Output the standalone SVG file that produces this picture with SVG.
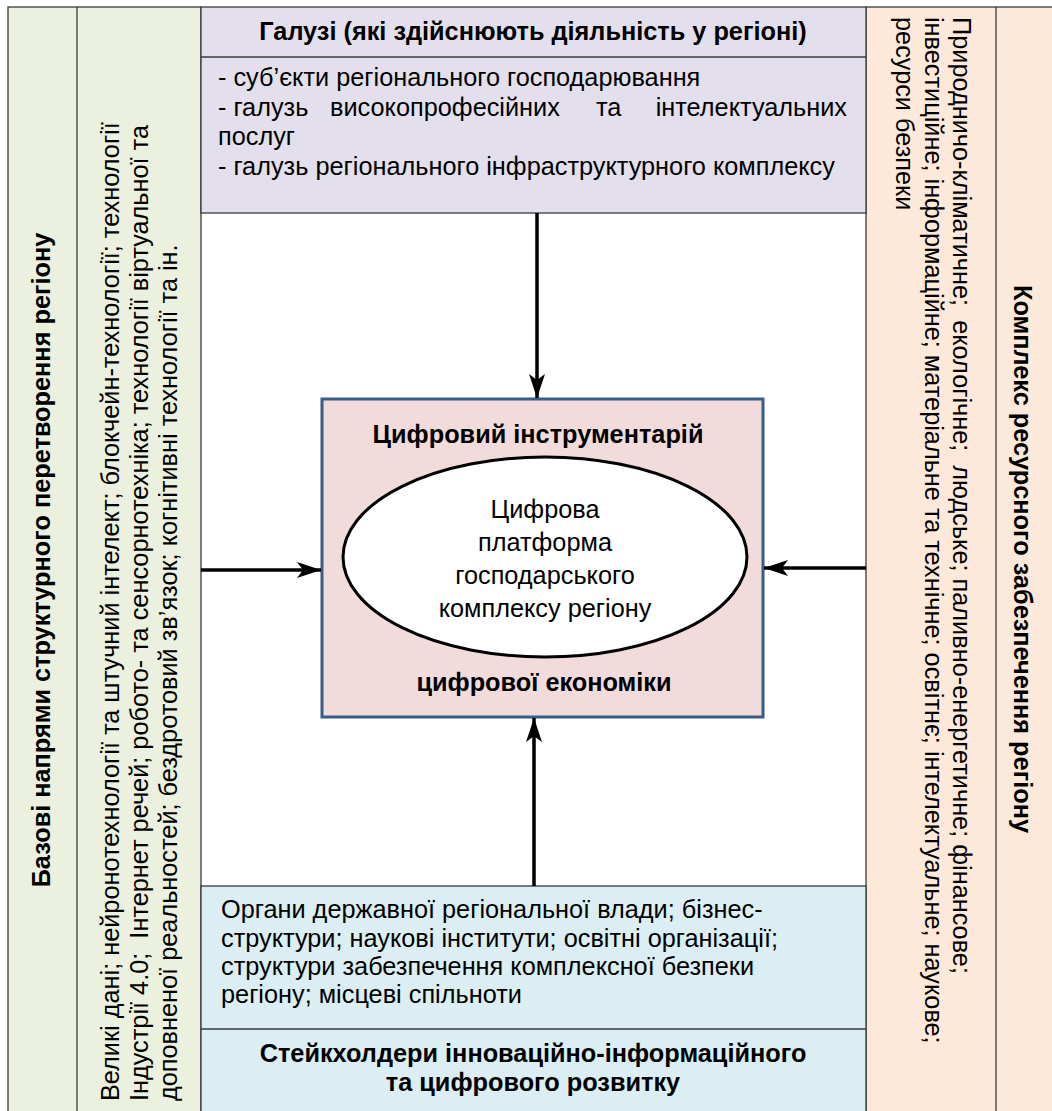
<svg xmlns="http://www.w3.org/2000/svg" width="1052" height="1111" viewBox="0 0 1052 1111">
<defs>
<style>
.t{font-family:"Liberation Sans",Arial,sans-serif;font-size:25.3px;fill:#000}
.b{font-weight:bold}
.c{text-anchor:middle}
.e{text-anchor:end}
.box{stroke:#3a3a3a;stroke-width:1.3}
.ln{stroke:#3a3a3a;stroke-width:1.3;fill:none}
.arr{stroke:#000;stroke-width:3.5;fill:none;marker-end:url(#ah)}
</style>
<marker id="ah" viewBox="0 0 24 16" refX="24" refY="8" markerWidth="24" markerHeight="16" markerUnits="userSpaceOnUse" orient="auto">
<path d="M0,0 L24,8 L0,16 L6,8 Z" fill="#000"/>
</marker>
</defs>
<rect width="1052" height="1111" fill="#fff"/>

<g id="left-panel">
<rect class="box" x="8" y="7" width="193" height="1120" fill="#ebf1de"/>
<line class="ln" x1="77" y1="7" x2="77" y2="1111"/>
<text class="t b c" transform="translate(50,560) rotate(-90)">Базові напрями структурного перетворення регіону</text>
<text class="t" transform="translate(119,1101) rotate(-90)">Великі дані; нейронотехнології та штучний інтелект; блокчейн-технології; технології</text>
<text class="t" transform="translate(148,1101) rotate(-90)" xml:space="preserve">Індустрії 4.0;  Інтернет речей; робото- та сенсорнотехніка; технології віртуальної та</text>
<text class="t" transform="translate(177,1101) rotate(-90)">доповненої реальностей; бездротовий зв’язок; когнітивні технології та ін.</text>
</g>

<g id="right-panel">
<rect class="box" x="866" y="7" width="200" height="1120" fill="#fde9d9"/>
<line class="ln" x1="996" y1="7" x2="996" y2="1111"/>
<text class="t b c" transform="translate(1014,559) rotate(90)">Комплекс ресурсного забезпечення регіону</text>
<text class="t" transform="translate(953,17) rotate(90)" xml:space="preserve">Природничо-кліматичне;  екологічне;  людське; паливно-енергетичне; фінансове;</text>
<text class="t" transform="translate(925,17) rotate(90)">інвестиційне; інформаційне; матеріальне та технічне; освітнє; інтелектуальне; наукове;</text>
<text class="t" transform="translate(896,17) rotate(90)">ресурси безпеки</text>
</g>

<g id="top-box">
<rect class="box" x="201" y="7" width="665" height="206" fill="#e4dfec"/>
<line class="ln" x1="201" y1="57" x2="866" y2="57"/>
<text class="t b c" x="533" y="40">Галузі (які здійснюють діяльність у регіоні)</text>
<text class="t" x="218" y="86">- суб’єкти регіонального господарювання</text>
<text class="t" x="218" y="116">- галузь</text>
<text class="t" x="330" y="116">високопрофесійних</text>
<text class="t" x="596" y="116">та</text>
<text class="t e" x="847" y="116">інтелектуальних</text>
<text class="t" x="218" y="145">послуг</text>
<text class="t" x="218" y="175">- галузь регіонального інфраструктурного комплексу</text>
</g>

<g id="center-box">
<rect x="322" y="399" width="441" height="318" fill="#f2dcdb" stroke="#385d8a" stroke-width="3"/>
<text class="t b c" x="538" y="443">Цифровий інструментарій</text>
<text class="t b c" x="544" y="691">цифрової економіки</text>
</g>

<g id="platform">
<ellipse cx="545" cy="557" rx="202" ry="100" fill="#fff" stroke="#000" stroke-width="3"/>
<text class="t c" x="545" y="518">Цифрова</text>
<text class="t c" x="545" y="551">платформа</text>
<text class="t c" x="545" y="584">господарського</text>
<text class="t c" x="545" y="617">комплексу регіону</text>
</g>

<g id="bottom-box">
<rect class="box" x="201" y="886" width="665" height="240" fill="#daeef3"/>
<line class="ln" x1="201" y1="1029" x2="866" y2="1029"/>
<text class="t" x="221" y="918">Органи державної регіональної влади; бізнес-</text>
<text class="t" x="221" y="947">структури; наукові інститути; освітні організації;</text>
<text class="t" x="221" y="975">структури забезпечення комплексної безпеки</text>
<text class="t" x="221" y="1003">регіону; місцеві спільноти</text>
<text class="t b c" x="533" y="1062">Стейкхолдери інноваційно-інформаційного</text>
<text class="t b c" x="533" y="1091">та цифрового розвитку</text>
</g>

<g id="connectors">
<line class="arr" x1="537" y1="213" x2="537" y2="398"/>
<line class="arr" x1="534" y1="886" x2="534" y2="718"/>
<line class="arr" x1="201" y1="570" x2="321" y2="570"/>
<line class="arr" x1="866" y1="568" x2="764" y2="568"/>
</g>
</svg>
